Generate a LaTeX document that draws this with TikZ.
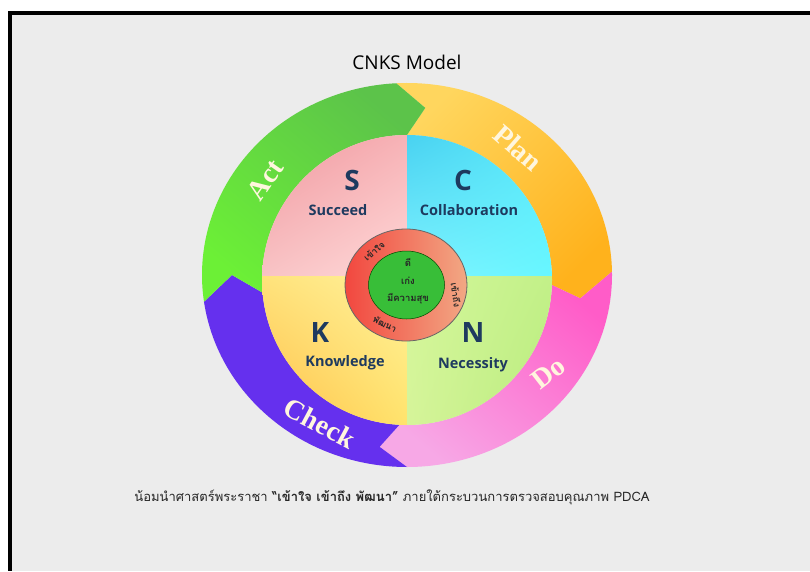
\documentclass[tikz,border=0pt]{standalone}
\usepackage{fontspec}
\setmainfont{Open Sans}
\newfontfamily\thaifont[Script=Thai]{Loma}
\newfontfamily\pdcafont{Liberation Serif}
\usetikzlibrary{calc,shadings}
\definecolor{bgray}{HTML}{ECECEC}
\definecolor{planA}{HTML}{FFD65E}
\definecolor{planB}{HTML}{FFB21C}
\definecolor{doA}{HTML}{FF5CC8}
\definecolor{doB}{HTML}{F7A8E6}
\definecolor{chk}{HTML}{6530EE}
\definecolor{actA}{HTML}{5CC34A}
\definecolor{actB}{HTML}{6CF036}
\definecolor{navy}{HTML}{1E3A5F}
\definecolor{ringL}{HTML}{F2473F}
\definecolor{ringR}{HTML}{F2A884}
\definecolor{cgreen}{HTML}{38BE38}
\definecolor{cream}{HTML}{FFF6DE}
\definecolor{sUL}{HTML}{F0959C}\definecolor{sUR}{HTML}{F6B0B4}
\definecolor{sLL}{HTML}{F8C2C4}\definecolor{sLR}{HTML}{FFD8D8}
\definecolor{cUL}{HTML}{45D0F0}\definecolor{cUR}{HTML}{5DE9FA}
\definecolor{cLL}{HTML}{80F2FF}\definecolor{cLR}{HTML}{66F7FF}
\definecolor{kUL}{HTML}{FFE27A}\definecolor{kUR}{HTML}{FFF29C}
\definecolor{kLL}{HTML}{FFBE48}\definecolor{kLR}{HTML}{FFE36C}
\definecolor{nUL}{HTML}{D3F79A}\definecolor{nUR}{HTML}{C2F088}
\definecolor{nLL}{HTML}{D6F49A}\definecolor{nLR}{HTML}{B8EC7C}
\tikzset{
  bigletter/.style={font=\fontsize{28}{30}\selectfont\bfseries, text=navy},
  qword/.style={font=\fontsize{14.5}{16}\selectfont\bfseries, text=navy},
  pdca/.style={font=\pdcafont\fontsize{28}{30}\selectfont\bfseries, text=cream},
  ringtxt/.style={font=\thaifont\fontsize{9}{10}\selectfont\bfseries, text=black!85},
  midtxt/.style={font=\thaifont\fontsize{9.5}{10}\selectfont\bfseries, text=black!85},
}
\begin{document}
\begin{tikzpicture}[x=1pt,y=1pt]
\useasboundingbox (0,0) rectangle (810,571);
\fill[white] (0,0) rectangle (810,571);
\fill[black] (8,0) rectangle (810,560);
\fill[bgray] (12,0) rectangle (810,556);
\coordinate (C) at (407,296);
\coordinate (Q) at (407,291);
\coordinate (M) at (407,295);
\coordinate (R) at (406,286);
% Plan
\shade[top color=planA, bottom color=planB, shading angle=45]
  ($(C)+(93:205 and 192)$) arc[start angle=93,end angle=1,x radius=205,y radius=192]
  -- ($(C)+(-8:175 and 168)$) -- ($(Q)+(-2:145)$) arc[start angle=-2,end angle=90,radius=145]
  -- ($(C)+(84:175 and 168)$) -- cycle;
% Do
\shade[top color=doA, bottom color=doB, shading angle=-40]
  ($(C)+(1:205 and 192)$) arc[start angle=1,end angle=-90,x radius=205,y radius=192]
  -- ($(C)+(-99:175 and 174)$) -- ($(Q)+(-93:145)$) arc[start angle=-93,end angle=-2,radius=145]
  -- ($(C)+(-8:175 and 168)$) -- cycle;
% Check
\fill[chk]
  ($(C)+(-90:205 and 192)$) arc[start angle=-90,end angle=-172,x radius=205,y radius=192]
  -- ($(C)+(-180:175 and 168)$) -- ($(Q)+(-175:145)$) arc[start angle=-175,end angle=-93,radius=145]
  -- ($(C)+(-99:175 and 174)$) -- cycle;
% Act
\shade[top color=actA, bottom color=actB, shading angle=-40]
  ($(C)+(188:205 and 192)$) arc[start angle=188,end angle=93,x radius=205,y radius=192]
  -- ($(C)+(84:175 and 168)$) -- ($(Q)+(90:145)$) arc[start angle=90,end angle=185,radius=145]
  -- ($(C)+(180:175 and 168)$) -- cycle;
% quadrants
\begin{scope}
  \clip (Q) circle[radius=145];
  \shade[upper left=sUL, upper right=sUR, lower left=sLL, lower right=sLR]
    (M) rectangle ++(-150,150);
  \shade[upper left=cUL, upper right=cUR, lower left=cLL, lower right=cLR]
    (M) rectangle ++(150,150);
  \shade[upper left=kUL, upper right=kUR, lower left=kLL, lower right=kLR]
    (M) rectangle ++(-150,-150);
  \shade[upper left=nUL, upper right=nUR, lower left=nLL, lower right=nLR]
    (M) rectangle ++(150,-150);
\end{scope}
% centre rings
\shadedraw[left color=ringL, right color=ringR, draw=black!60, line width=0.8pt]
  (R) ellipse[x radius=61, y radius=56];
\filldraw[fill=cgreen, draw=green!30!black, line width=0.5pt] (406.5,286) ellipse[x radius=38, y radius=34];
% letters
\node[bigletter] (S) at (352,391) {S};
\node[bigletter] (Cl) at (463,391) {C};
\node[bigletter] (K) at (320,238) {K};
\node[bigletter] (N) at (473,238) {N};
\node[qword] (succ) at (338,361) {Succeed};
\node[qword] (coll) at (469,361) {Collaboration};
\node[qword] (know) at (345,208) {Knowledge};
\node[qword] (nec) at (473,206) {Necessity};
% PDCA labels
\node[pdca, rotate=55] (act) at (265,391) {Act};
\node[pdca, rotate=-41] (plan) at (518,423) {Plan};
\node[pdca, rotate=38] (do) at (548,198) {Do};
\node[pdca, rotate=-28] (check) at (320,148) {Check};
% ring texts
\node[ringtxt, rotate=40] (r1) at (374,320) {เข้าใจ};
\node[ringtxt, rotate=-82] (r2) at (456,276) {เข้าถึง};
\node[ringtxt, rotate=-27] (r3) at (385,247) {พัฒนา};
\node[midtxt] (m1) at (408,309) {ดี};
\node[midtxt] (m2) at (408,290) {เก่ง};
\node[midtxt] (m3) at (408,272) {มีความสุข};
% title and caption
\node[font=\fontsize{19}{22}\selectfont] (title) at (407,509) {CNKS Model};
\node[font=\thaifont\fontsize{13}{15}\selectfont, text=black!85] (cap) at (392,74)
  {น้อมนำศาสตร์พระราชา \textbf{“เข้าใจ เข้าถึง พัฒนา”} ภายใต้กระบวนการตรวจสอบคุณภาพ PDCA};
\end{tikzpicture}
\end{document}
